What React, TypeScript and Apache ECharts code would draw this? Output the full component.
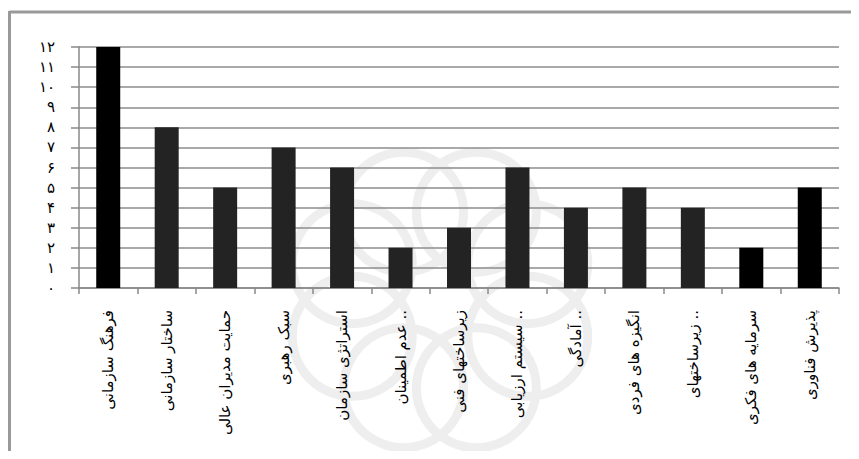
import React, { useEffect, useRef } from "react";
import * as echarts from "echarts";

const categories = [
  "فرهنگ سازمانی",
  "ساختار سازمانی",
  "حمایت مدیران عالی",
  "سبک رهبری",
  "استراتژی سازمان",
  "عدم اطمینان ..",
  "زیرساختهای فنی",
  "سیستم ارزیابی ..",
  "آمادگی ..",
  "انگیزه های فردی",
  "زیرساختهای ..",
  "سرمایه های فکری",
  "پذیرش فناوری",
];
const values = [12, 8, 5, 7, 6, 2, 3, 6, 4, 5, 4, 2, 5];
const barColors = ["#000000", "#232323", "#232323", "#232323", "#232323", "#232323", "#232323", "#232323", "#232323", "#232323", "#232323", "#000000", "#000000"];
const yTickLabels = ["۰", "۱", "۲", "۳", "۴", "۵", "۶", "۷", "۸", "۹", "۱۰", "۱۱", "۱۲"];

export default function App() {
  const ref = useRef<HTMLDivElement>(null);
  useEffect(() => {
    if (!ref.current) return;
    const chart = echarts.init(ref.current, undefined, { renderer: "svg" });
    const cx = 432, cy = 292;
    const petals: any[] = [];
    for (let i = 0; i < 8; i++) {
      const a = (i * Math.PI) / 4 + Math.PI / 8;
      petals.push({
        type: "circle",
        shape: { cx: cx + Math.cos(a) * 95, cy: cy + Math.sin(a) * 95, r: 60 },
        style: { fill: "none", stroke: "#eeeeee", lineWidth: 9 },
        silent: true,
        z: -10,
      });
    }
    chart.setOption({
      animation: false,
      backgroundColor: "#ffffff",
      textStyle: { fontFamily: "DejaVu Sans" },
      graphic: [
        ...petals,
        {
          type: "line",
          shape: { x1: 1.5, y1: 4, x2: 851, y2: 4 },
          style: { stroke: "#999999", lineWidth: 3 },
          z: 5,
        },
        {
          type: "line",
          shape: { x1: 1.5, y1: 3, x2: 1.5, y2: 451 },
          style: { stroke: "#999999", lineWidth: 3 },
          z: 5,
        },
      ],
      grid: { left: 71, right: 12, top: 39, bottom: 163, containLabel: false },
      xAxis: {
        type: "category",
        data: categories,
        axisLine: { lineStyle: { color: "#888888", width: 1.5 } },
        axisTick: { show: true, length: 6, lineStyle: { color: "#888888", width: 1.5 } },
        axisLabel: {
          rotate: 90,
          interval: 0,
          color: "#000000",
          fontSize: 15,
          fontFamily: "DejaVu Sans",
          margin: 22,
        },
      },
      yAxis: {
        type: "value",
        min: 0,
        max: 12,
        interval: 1,
        axisLine: { show: true, lineStyle: { color: "#888888", width: 1.5 } },
        axisTick: { show: true, length: 8, lineStyle: { color: "#888888", width: 1.5 } },
        splitLine: { show: true, lineStyle: { color: "#8c8c8c", width: 1.5 } },
        axisLabel: {
          color: "#000000",
          fontSize: 15,
          fontFamily: "DejaVu Sans",
          margin: 24,
          formatter: (v: number) => yTickLabels[Math.round(v)] ?? "",
        },
      },
      series: [
        {
          type: "bar",
          data: values.map((v, i) => ({ value: v, itemStyle: { color: barColors[i] } })),
          barWidth: 24,
        },
      ],
    });
    return () => chart.dispose();
  }, []);
  return <div ref={ref} style={{ width: 843, height: 443 }} />;
}
